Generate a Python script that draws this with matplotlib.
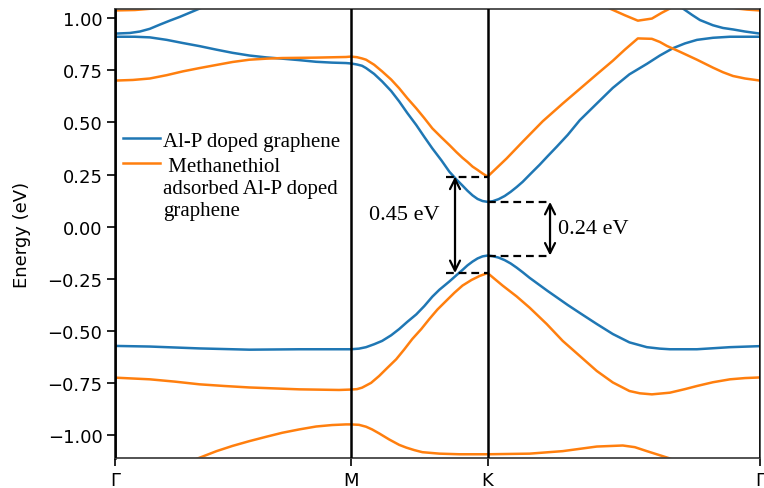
import matplotlib
matplotlib.use("Agg")
import matplotlib.pyplot as plt
from matplotlib.legend_handler import HandlerLine2D

# High-symmetry path positions and labels
kpts = [0.0, 0.577, 0.911, 1.577]
klabels = ["Γ", "M", "K", "Γ"]

# ---- Al-P doped graphene (blue) ----
blue_c_k = [0.0, 0.0487, 0.0852, 0.1266, 0.1656, 0.2069, 0.2483, 0.2873, 0.3287, 0.3701,
            0.4090, 0.4504, 0.4918, 0.5307, 0.5648, 0.577,
            0.5917, 0.6040, 0.6138, 0.6335, 0.6531, 0.6752, 0.6949, 0.7145, 0.7366, 0.7563,
            0.7759, 0.7980, 0.8177, 0.8349, 0.8496, 0.8619, 0.8742, 0.8864, 0.8987, 0.911,
            0.9232, 0.9379, 0.9526, 0.9673, 0.9820, 0.9967, 1.0163, 1.0383, 1.0579, 1.0799,
            1.1069, 1.1363, 1.1779, 1.2171, 1.2577, 1.3003, 1.3321, 1.3640, 1.3934, 1.4228,
            1.4619, 1.5035, 1.5403, 1.577]
blue_c_e = [0.910, 0.910, 0.907, 0.895, 0.880, 0.865, 0.848, 0.833, 0.820, 0.811,
            0.805, 0.798, 0.790, 0.786, 0.784, 0.782,
            0.777, 0.771, 0.760, 0.732, 0.696, 0.650, 0.600, 0.545, 0.487, 0.430,
            0.375, 0.318, 0.263, 0.226, 0.197, 0.172, 0.150, 0.133, 0.123, 0.119,
            0.122, 0.132, 0.147, 0.167, 0.190, 0.215, 0.254, 0.297, 0.338, 0.383,
            0.440, 0.510, 0.590, 0.665, 0.730, 0.780, 0.820, 0.855, 0.878, 0.895,
            0.905, 0.910, 0.910, 0.910]

blue_up_left_k = [0.0, 0.0365, 0.0609, 0.0852, 0.1096, 0.1339, 0.1582, 0.1826, 0.2069, 0.2313]
blue_up_left_e = [0.925, 0.928, 0.935, 0.948, 0.968, 0.987, 1.005, 1.025, 1.045, 1.065]
blue_up_right_k = [1.3689, 1.3885, 1.4105, 1.4301, 1.4619, 1.4864, 1.5109, 1.5403, 1.577]
blue_up_right_e = [1.070, 1.045, 1.015, 0.990, 0.965, 0.952, 0.945, 0.935, 0.925]

blue_v_k = [0.0, 0.0852, 0.2069, 0.3287, 0.4504, 0.5648, 0.577,
            0.5966, 0.6138, 0.6335, 0.6531, 0.6752, 0.6949, 0.7145, 0.7366, 0.7563, 0.7759,
            0.7931, 0.8177, 0.8349, 0.8496, 0.8619, 0.8742, 0.8864, 0.8987, 0.911,
            0.9232, 0.9379, 0.9526, 0.9673, 0.9820, 0.9967, 1.0138, 1.0383, 1.0579, 1.0799,
            1.1069, 1.1363, 1.1779, 1.2171, 1.2577, 1.3003, 1.3321, 1.3566, 1.4228, 1.5035, 1.577]
blue_v_e = [-0.571, -0.574, -0.583, -0.589, -0.587, -0.587, -0.587,
            -0.584, -0.577, -0.563, -0.547, -0.520, -0.490, -0.456, -0.420, -0.380, -0.335,
            -0.302, -0.262, -0.232, -0.207, -0.185, -0.167, -0.152, -0.142, -0.138,
            -0.141, -0.148, -0.160, -0.176, -0.196, -0.218, -0.245, -0.280, -0.308, -0.338,
            -0.375, -0.413, -0.466, -0.514, -0.554, -0.577, -0.584, -0.587, -0.587, -0.577, -0.572]

# ---- Methanethiol adsorbed Al-P doped graphene (orange) ----
orange_c_k = [0.0, 0.0438, 0.0852, 0.1266, 0.1656, 0.2069, 0.2483, 0.2873, 0.3287, 0.3701,
              0.4090, 0.4918, 0.5648, 0.577,
              0.5917, 0.6040, 0.6138, 0.6335, 0.6531, 0.6752, 0.6949, 0.7145, 0.7366, 0.7563,
              0.7759, 0.7980, 0.8177, 0.8349, 0.8496, 0.8619, 0.8742, 0.8864, 0.8987, 0.911,
              0.9575, 0.9967, 1.0457, 1.0946, 1.1363, 1.1779, 1.2171, 1.2464, 1.2783, 1.3126,
              1.3321, 1.3493, 1.3811, 1.4228, 1.4619, 1.4864, 1.5109, 1.5403, 1.577]
orange_c_e = [0.700, 0.703, 0.710, 0.726, 0.744, 0.760, 0.775, 0.789, 0.800, 0.805,
              0.808, 0.810, 0.813, 0.815,
              0.812, 0.806, 0.800, 0.776, 0.744, 0.705, 0.663, 0.616, 0.567, 0.520,
              0.471, 0.428, 0.391, 0.357, 0.330, 0.310, 0.288, 0.272, 0.255, 0.240,
              0.327, 0.407, 0.505, 0.590, 0.660, 0.730, 0.795, 0.848, 0.902, 0.900,
              0.885, 0.866, 0.838, 0.800, 0.762, 0.740, 0.722, 0.710, 0.700]

orange_dip_k = [1.1852, 1.2097, 1.2464, 1.2783, 1.3126, 1.3370, 1.3566, 1.3762]
orange_dip_e = [1.070, 1.045, 1.013, 0.987, 0.997, 1.025, 1.045, 1.070]
orange_top_left_k = [0.0, 0.0487, 0.0925, 0.1461]
orange_top_left_e = [1.036, 1.038, 1.045, 1.060]
orange_top_right_k = [1.4791, 1.5207, 1.5452, 1.577]
orange_top_right_e = [1.065, 1.045, 1.040, 1.036]

orange_v_k = [0.0, 0.0852, 0.1461, 0.2069, 0.2678, 0.3287, 0.4504, 0.5478, 0.577,
              0.5917, 0.6040, 0.6261, 0.6458, 0.6654, 0.6875, 0.7071, 0.7268, 0.7489,
              0.7686, 0.7882, 0.8103, 0.8300, 0.8496, 0.8717, 0.8914, 0.911,
              0.9281, 0.9477, 0.9820, 1.0138, 1.0554, 1.0946, 1.1363, 1.1779, 1.2171, 1.2577,
              1.2832, 1.3126, 1.3566, 1.3934, 1.4228, 1.4619, 1.5035, 1.5403, 1.577]
orange_v_e = [-0.723, -0.731, -0.742, -0.755, -0.763, -0.770, -0.779, -0.782, -0.780,
              -0.778, -0.771, -0.748, -0.715, -0.677, -0.635, -0.588, -0.538, -0.490,
              -0.442, -0.397, -0.354, -0.316, -0.282, -0.255, -0.236, -0.222,
              -0.250, -0.282, -0.334, -0.388, -0.466, -0.547, -0.619, -0.691, -0.746, -0.787,
              -0.798, -0.803, -0.795, -0.778, -0.763, -0.745, -0.731, -0.725, -0.722]

orange_low_k = [0.1826, 0.1996, 0.2483, 0.2873, 0.3287, 0.3701, 0.4090, 0.4504, 0.4918,
                0.5307, 0.5648, 0.577,
                0.5966, 0.6138, 0.6286, 0.6458, 0.6703, 0.6949, 0.7121, 0.7317, 0.7514,
                0.7931, 0.8422, 0.911,
                1.0138, 1.0946, 1.1779, 1.2415, 1.2709, 1.3003, 1.3566, 1.3811]
orange_low_e = [-1.140, -1.112, -1.075, -1.050, -1.027, -1.006, -0.987, -0.971, -0.957,
                -0.950, -0.947, -0.947,
                -0.949, -0.958, -0.971, -0.990, -1.019, -1.045, -1.058, -1.070, -1.080,
                -1.087, -1.090, -1.090,
                -1.087, -1.075, -1.053, -1.048, -1.056, -1.075, -1.110, -1.130]

legend_labels = ["Al-P doped graphene", " Methanethiol\nadsorbed Al-P doped\ngraphene"]
gap_labels = ["0.45 eV", "0.24 eV"]

BLUE = "#1f77b4"
ORANGE = "#ff7f0e"
LW = 1.8


class FirstLineHandler(HandlerLine2D):
    """Place the legend line next to the first line of a multi-line label."""
    def __init__(self, lines_up=0, **kw):
        super().__init__(**kw)
        self.lines_up = lines_up

    def create_artists(self, legend, orig_handle, xdescent, ydescent, width, height,
                       fontsize, trans):
        shift = self.lines_up * 1.2 * fontsize
        return super().create_artists(legend, orig_handle, xdescent, ydescent - 2 * shift,
                                      width, height, fontsize, trans)


fig = plt.figure(figsize=(7.64, 4.89), dpi=100)
ax = fig.add_axes([0.1505, 0.0613, 0.8443, 0.9183])

lb, = ax.plot(blue_c_k, blue_c_e, color=BLUE, lw=LW, label=legend_labels[0])
ax.plot(blue_up_left_k, blue_up_left_e, color=BLUE, lw=LW)
ax.plot(blue_up_right_k, blue_up_right_e, color=BLUE, lw=LW)
ax.plot(blue_v_k, blue_v_e, color=BLUE, lw=LW)

lo, = ax.plot(orange_c_k, orange_c_e, color=ORANGE, lw=LW, label=legend_labels[1])
ax.plot(orange_dip_k, orange_dip_e, color=ORANGE, lw=LW)
ax.plot(orange_top_left_k, orange_top_left_e, color=ORANGE, lw=LW)
ax.plot(orange_top_right_k, orange_top_right_e, color=ORANGE, lw=LW)
ax.plot(orange_v_k, orange_v_e, color=ORANGE, lw=LW)
ax.plot(orange_low_k, orange_low_e, color=ORANGE, lw=LW)

for kp in kpts:
    ax.axvline(kp, color="black", lw=1.8, zorder=3)

ax.set_xlim(kpts[0], kpts[-1])
ax.set_ylim(-1.108, 1.043)
ax.set_xticks(kpts)
ax.set_xticklabels(klabels)
ax.set_yticks([-1.0, -0.75, -0.5, -0.25, 0.0, 0.25, 0.5, 0.75, 1.0])
ax.tick_params(labelsize=13, length=5.5, width=1.2)
ax.set_ylabel("Energy (eV)", fontsize=13)
ax.yaxis.set_label_coords(-0.130, 0.5)
for s in ["top", "right", "bottom"]:
    ax.spines[s].set_color("#444444")
    ax.spines[s].set_linewidth(1.3)
ax.spines["left"].set_linewidth(1.8)

# Gap annotations
kK = kpts[2]
oc_K = orange_c_e[orange_c_k.index(kK)]
ov_K = orange_v_e[orange_v_k.index(kK)]
bc_K = blue_c_e[blue_c_k.index(kK)]
bv_K = blue_v_e[blue_v_k.index(kK)]
dash = dict(color="black", lw=1.6, dashes=(3.5, 2.2), zorder=4)
ax.plot([0.8104, kK], [oc_K, oc_K], **dash)
ax.plot([0.8104, kK], [ov_K, ov_K], **dash)
ax.plot([kK, 1.0636], [bc_K, bc_K], **dash)
ax.plot([kK, 1.0636], [bv_K, bv_K], **dash)
arr = dict(arrowstyle="<->", color="black", lw=1.6, mutation_scale=18, shrinkA=0, shrinkB=0)
ax.annotate("", xy=(0.8313, oc_K), xytext=(0.8313, ov_K), arrowprops=arr, zorder=5)
ax.annotate("", xy=(1.0636, bc_K), xytext=(1.0636, bv_K), arrowprops=arr, zorder=5)
ax.text(0.7066, 0.06, gap_labels[0], fontsize=16, family="Liberation Serif",
        ha="center", va="center")
ax.text(1.083, -0.01, gap_labels[1], fontsize=16, family="Liberation Serif",
        ha="left", va="center")

leg = ax.legend(handles=[lb, lo], loc="upper left", bbox_to_anchor=(0.0124, 0.728),
                frameon=False, borderpad=0, borderaxespad=0, handlelength=1.78,
                handletextpad=0.15, labelspacing=0.3,
                handler_map={lo: FirstLineHandler(lines_up=1)},
                prop={"family": "Liberation Serif", "size": 15})

fig.savefig("out.png", dpi=100)
